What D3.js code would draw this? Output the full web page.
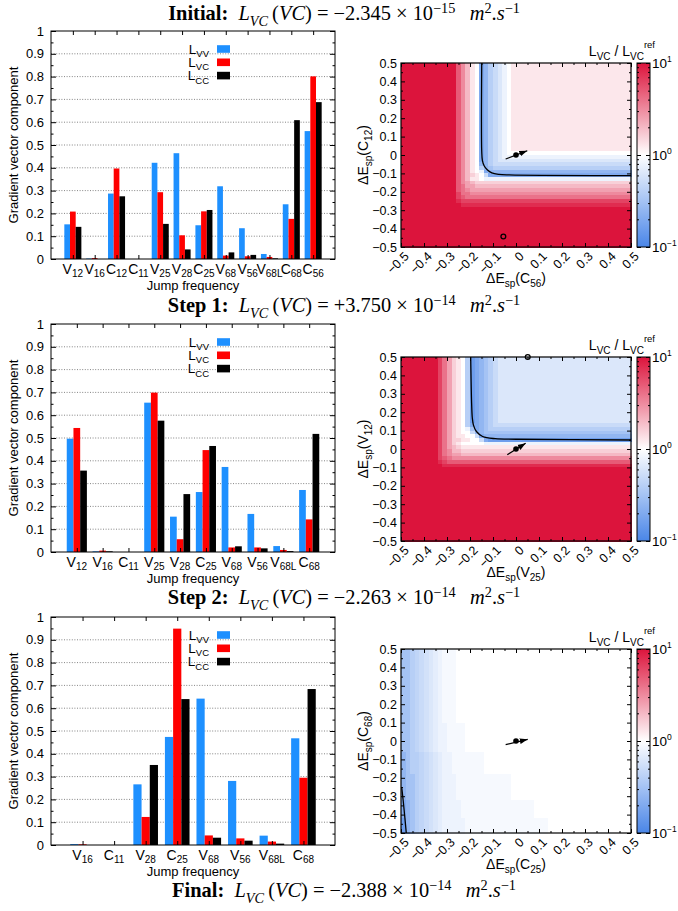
<!DOCTYPE html>
<html><head><meta charset="utf-8">
<script src="https://cdn.jsdelivr.net/npm/d3@7"></script>
<style>body{margin:0;background:#fff}svg{display:block}</style>
</head><body>
<svg id="c" width="678" height="911" xmlns="http://www.w3.org/2000/svg"></svg>
<script>
// ================= DATA =================
const titleLabels    = ["Initial:", "Step 1:", "Step 2:", "Final:"];
const titleMantissas = ["\u22122.345", "+3.750", "\u22122.263", "\u22122.388"];
const titleExponents = ["\u221215", "\u221214", "\u221214", "\u221214"];

const seriesNames = ["VV", "VC", "CC"];

const categories1 = ["V12","V16","C12","C11","V25","V28","C25","V68","V56","V68L","C68","C56"];
const LVV1 = [0.152,0.002,0.287,0.000,0.422,0.464,0.148,0.319,0.135,0.022,0.240,0.561];
const LVC1 = [0.208,0.004,0.397,0.000,0.293,0.104,0.209,0.015,0.012,0.009,0.176,0.801];
const LCC1 = [0.141,0.000,0.275,0.000,0.154,0.042,0.215,0.029,0.018,0.003,0.609,0.688];

const categories2 = ["V12","V16","C11","V25","V28","C25","V68","V56","V68L","C68"];
const LVV2 = [0.497,0.003,0.000,0.655,0.155,0.263,0.373,0.167,0.026,0.272];
const LVC2 = [0.544,0.006,0.000,0.699,0.056,0.447,0.020,0.020,0.009,0.143];
const LCC2 = [0.357,0.003,0.000,0.576,0.254,0.465,0.025,0.016,0.004,0.518];

const categories3 = ["V16","C11","V28","C25","V68","V56","V68L","C68"];
const LVV3 = [0.004,0.000,0.266,0.474,0.642,0.281,0.041,0.468];
const LVC3 = [0.003,0.000,0.123,0.949,0.042,0.029,0.015,0.295];
const LCC3 = [0.000,0.000,0.351,0.640,0.032,0.019,0.006,0.684];

const barTicks  = [0,0.1,0.2,0.3,0.4,0.5,0.6,0.7,0.8,0.9,1];
const heatTicks = [-0.5,-0.4,-0.3,-0.2,-0.1,0,0.1,0.2,0.3,0.4,0.5];
const cbTicks   = [0.1, 1, 10];
const cbTickExp = ["\u22121", "0", "1"];

const heatXVars = ["C56", "V25", "C25"];
const heatYVars = ["C12", "V12", "C68"];

// heatmap cells: 50 x 50, rows listed from top (y=0.5) to bottom (y=-0.5);
// [repeat, run-length row]; letter a..u = log10(L_VC/L_VC^ref) from -1.0 to +1.0 in 0.1 steps,
// an upper-case letter is half a step above its lower-case one
const heat1Rows = [
  [24, "u12 r p n l k d e g h i j k l26"],
  [1,  "u12 r p n l k d e g h i j k k26"],
  [1,  "u12 r p n l k d e g h i j j j26"],
  [1,  "u12 r p n l k d e g h i i i i26"],
  [1,  "u12 r p n l k e e g h h h h h26"],
  [1,  "u12 r p n l k g e f g g g g g26"],
  [1,  "u12 r p n l k j d e e e e e e26"],
  [1,  "u12 r p n m l k h d d d d d d26"],
  [1,  "u12 r p n l l k j32"],
  [1,  "u12 r p o n m m33"],
  [1,  "u12 r q o o n n33"],
  [1,  "u12 r q p o o o33"],
  [1,  "u12 s q q p p p33"],
  [1,  "u12 s r q q q q33"],
  [1,  "u12 t s s s s s33"],
  [1,  "u13 t t t t t33"],
  [11, "u50"]
];
const heat2Rows = [
  [18, "u8 s q o m l k g c d e f g h i29"],
  [1,  "u8 s q o m l k g d d e f g h h29"],
  [1,  "u8 s q o m l k j f d e f g g g29"],
  [1,  "u8 s q o m l k k h e e f f f f29"],
  [1,  "u8 s q o m l l k k h d e e e e29"],
  [1,  "u8 s q o m m l l k k h d c c c29"],
  [1,  "u8 s q o m l k k k k k j j j29"],
  [1,  "u8 s q o n m l37"],
  [1,  "u8 s q p n n m37"],
  [1,  "u8 s q p o o n37"],
  [1,  "u8 s r q p p p37"],
  [1,  "u8 t s r40"],
  [1,  "u9 t41"],
  [20, "u50"]
];
const heat3Rows = [
  [20, "f f g G h H i I j J J J k37"],
  [8,  "f f g G h H i I j j J J J J k36"],
  [6,  "e f g g G h H i I j j J7 k32"],
  [7,  "e f f g G h H i I j3 J12 k26"],
  [5,  "d e f g G h H i I j4 J16 k21"],
  [4,  "c e f g G h H i I j5 J18 k18"]
];

const contour1 = [[-0.149,0.5],[-0.149,0.02],[-0.146,-0.03],[-0.138,-0.06],[-0.125,-0.08],[-0.105,-0.097],[-0.075,-0.105],[-0.03,-0.108],[0.5,-0.112]];
const contour2 = [[-0.197,0.5],[-0.193,0.25],[-0.19,0.17],[-0.185,0.13],[-0.172,0.095],[-0.145,0.068],[-0.09,0.056],[0.0,0.053],[0.5,0.049]];
const contour3 = [[-0.497,-0.25],[-0.49,-0.33],[-0.483,-0.42],[-0.477,-0.5]];

const arrow1 = [[-0.045,-0.022],[0.049,0.023]];
const arrow2 = [[-0.038,-0.031],[0.042,0.031]];
const arrow3 = [[-0.045,-0.020],[0.051,0.009]];
const point1 = [0,0], point2 = [0,0], point3 = [0,0];
const marker1 = [[-0.055,-0.443]];
const marker2 = [[0.051,0.5]];
const marker3 = [];

// ================= STYLE / LAYOUT =================
const SANS  = "'Liberation Sans', Arial, Helvetica, sans-serif";
const SERIF = "'Liberation Serif', 'Times New Roman', serif";
const barColors = ["#1e90ff", "#ff0000", "#000000"];
const HEAT_BLUE = "#4a86e8", HEAT_RED = "#dc143c";
const svg = d3.select("#c");

const defs = svg.append("defs");
defs.append("marker").attr("id","ah").attr("markerUnits","userSpaceOnUse")
  .attr("markerWidth",9).attr("markerHeight",7).attr("refX",8).attr("refY",3.5)
  .attr("orient","auto")
  .append("path").attr("d","M0,0.6 L8,3.5 L0,6.4 Z").attr("fill","#000");

function rich(parent, parts, attrs) {
  const t = parent.append("text");
  Object.entries(attrs).forEach(([k,v]) => t.attr(k, v));
  let cur = 0;
  parts.forEach(p => {
    const sp = t.append("tspan").text(p.t);
    if (p.size) sp.attr("font-size", p.size);
    const sh = p.shift || 0;
    if (sh !== cur) { sp.attr("dy", cur - sh); cur = sh; }
    if (p.it) sp.attr("font-style", "italic");
    if (p.bold) sp.attr("font-weight", "bold");
  });
  return t;
}
function subLabel(name, big, small, drop) {
  return [{t: name[0], size: big}, {t: name.slice(1), size: small, shift: -drop}];
}

// ================= TITLES =================
function titleParts(i, S) {
  const sub = -0.28*S, sup = 0.36*S;
  return [
    {t: titleLabels[i], bold: true, size: S},
    {t: "\u2002", size: S},
    {t: "L", it: true, size: S},
    {t: "VC", it: true, size: 0.7*S, shift: sub},
    {t: "\u2009(", size: S},
    {t: "VC", it: true, size: S},
    {t: ") = " + titleMantissas[i] + " \u00d7 10", size: S},
    {t: titleExponents[i], size: 0.7*S, shift: sup},
    {t: "\u2002\u2009", size: S},
    {t: "m", it: true, size: S},
    {t: "2", size: 0.7*S, shift: sup},
    {t: ".", size: S},
    {t: "s", it: true, size: S},
    {t: "\u22121", size: 0.7*S, shift: sup}
  ];
}
const titleY = [20, 312, 604, 897];
let tmp = rich(svg, titleParts(0, 17), {x: 0, y: 200, "font-family": SERIF});
const w0 = tmp.node().getComputedTextLength();
tmp.remove();
const TS = 17 * 352 / w0;
titleY.forEach((y, i) => {
  rich(svg, titleParts(i, TS), {x: 344, y: y, "font-family": SERIF, "text-anchor": "middle", fill: "#000"});
});

// ================= BAR CHARTS =================
function barChart(top, cats, vals) {
  const L = 51, R = 335, H = 228, B = top + H;
  const x = d3.scaleLinear().domain([-1, cats.length]).range([L, R]);
  const y = d3.scaleLinear().domain([0, 1]).range([B, top]);
  const g = svg.append("g").attr("font-family", SANS);
  g.selectAll(null).data(barTicks.filter(d => d > 0 && d < 1)).join("line")
    .attr("x1", L).attr("x2", R).attr("y1", d => y(d)).attr("y2", d => y(d))
    .attr("stroke", "#777").attr("stroke-width", 0.9).attr("stroke-dasharray", "1,1.6");
  const BW = 0.26;
  vals.forEach((arr, s) => {
    g.selectAll(null).data(arr).join("rect")
      .attr("x", (d, i) => x(i + (s - 1) * BW - BW / 2))
      .attr("width", x(BW) - x(0))
      .attr("y", d => y(d)).attr("height", d => y(0) - y(d))
      .attr("fill", barColors[s]);
  });
  const fmt = d => d === 0 ? "0" : d === 1 ? "1" : d3.format(".1f")(d);
  const ay = g.append("g").attr("transform", `translate(${L},0)`)
    .call(d3.axisLeft(y).tickValues(barTicks).tickSize(-5).tickPadding(7).tickFormat(fmt));
  ay.select(".domain").remove();
  ay.selectAll("text").attr("font-size", 13).attr("font-family", SANS).attr("fill", "#000");
  const minors = barTicks.slice(0, -1).map(d => d + 0.05);
  g.append("g").attr("transform", `translate(${L},0)`)
    .call(d3.axisLeft(y).tickValues(minors).tickSize(-2.5).tickFormat("")).select(".domain").remove();
  g.append("g").attr("transform", `translate(${R},0)`)
    .call(d3.axisRight(y).tickValues(barTicks).tickSize(-5).tickFormat("")).select(".domain").remove();
  g.append("g").attr("transform", `translate(${R},0)`)
    .call(d3.axisRight(y).tickValues(minors).tickSize(-2.5).tickFormat("")).select(".domain").remove();
  const idx = d3.range(cats.length);
  g.append("g").attr("transform", `translate(0,${top})`)
    .call(d3.axisTop(x).tickValues(idx).tickSize(-4).tickFormat("")).select(".domain").remove();
  g.append("g").attr("transform", `translate(0,${B})`)
    .call(d3.axisBottom(x).tickValues(idx).tickSize(-4).tickFormat("")).select(".domain").remove();
  g.selectAll(".tick line").attr("stroke", "#000");
  cats.forEach((c, i) => {
    rich(g, subLabel(c, 14, 10, 3.5), {x: x(i), y: B + 14.5, "text-anchor": "middle", fill: "#000"});
  });
  g.append("rect").attr("x", L).attr("y", top).attr("width", R - L).attr("height", H)
    .attr("fill", "none").attr("stroke", "#000").attr("stroke-width", 1);
  g.append("text").attr("transform", `translate(18,${(top + B) / 2}) rotate(-90)`)
    .attr("text-anchor", "middle").attr("font-size", 13).text("Gradient vector component");
  g.append("text").attr("x", (L + R) / 2).attr("y", B + 30.5).attr("text-anchor", "middle")
    .attr("font-size", 13).text("Jump frequency");
  const lt = top + 18;
  seriesNames.forEach((n, s) => {
    const cy = lt + s * 13.3;
    g.append("rect").attr("x", 217).attr("y", cy - 3.8).attr("width", 13).attr("height", 7.6).attr("fill", barColors[s]);
    rich(g, [{t: "L", size: 13.5}, {t: n, size: 9.5, shift: -3.5}], {x: 209, y: cy + 4.5, "text-anchor": "end", fill: "#000"});
  });
}
barChart(31, categories1, [LVV1, LVC1, LCC1]);
barChart(324, categories2, [LVV2, LVC2, LCC2]);
barChart(617, categories3, [LVV3, LVC3, LCC3]);

// ================= HEATMAPS =================
const color = d3.scaleLinear().domain([-1, 0, 1]).range([HEAT_BLUE, "#ffffff", HEAT_RED]).clamp(true);
function decodeRow(s) {
  let out = "";
  s.trim().split(/\s+/).forEach(tok => { out += tok[0].repeat(tok.length > 1 ? +tok.slice(1) : 1); });
  while (out.length < 50) out += out[out.length - 1];
  return out.slice(0, 50);
}
function level(ch) {
  const c = ch.charCodeAt(0);
  return c >= 97 ? (c - 97) / 10 - 1 : (c - 65) / 10 - 1 + 0.05;
}
function expandRows(rows) {
  const res = [];
  rows.forEach(([n, s]) => { const r = decodeRow(s); for (let i = 0; i < n; i++) res.push(r); });
  return res;
}
const fmtH = d => Math.abs(d) < 1e-9 ? "0" : d3.format(".1f")(d);

function heatmap(k, top, rows, contour, arrow, point, markers, xv, yv) {
  const L = 401, R = 631, H = 184, B = top + H;
  const x = d3.scaleLinear().domain([-0.5, 0.5]).range([L, R]);
  const y = d3.scaleLinear().domain([-0.5, 0.5]).range([B, top]);
  const g = svg.append("g").attr("font-family", SANS);
  const grid = expandRows(rows);
  const cells = [];
  grid.forEach((row, r) => {
    for (let j = 0; j < row.length; j++) {
      cells.push({x0: -0.5 + 0.02 * j, y1: 0.5 - 0.02 * r, v: level(row[j])});
    }
  });
  g.append("g").attr("shape-rendering", "crispEdges").selectAll("rect").data(cells).join("rect")
    .attr("x", d => x(d.x0)).attr("y", d => y(d.y1))
    .attr("width", x(0.02) - x(0) + 0.6).attr("height", y(0) - y(0.02) + 0.6)
    .attr("fill", d => color(d.v));
  const clipId = "clip" + k;
  defs.append("clipPath").attr("id", clipId).append("rect").attr("x", L).attr("y", top).attr("width", R - L).attr("height", H);
  g.append("path").datum(contour).attr("clip-path", `url(#${clipId})`)
    .attr("d", d3.line().x(d => x(d[0])).y(d => y(d[1])).curve(d3.curveCatmullRom))
    .attr("fill", "none").attr("stroke", "#000").attr("stroke-width", 1.3);
  g.append("line").attr("x1", x(arrow[0][0])).attr("y1", y(arrow[0][1]))
    .attr("x2", x(arrow[1][0])).attr("y2", y(arrow[1][1]))
    .attr("stroke", "#000").attr("stroke-width", 1.2).attr("marker-end", "url(#ah)");
  g.append("circle").attr("cx", x(point[0])).attr("cy", y(point[1])).attr("r", 2.8).attr("fill", "#000");
  g.selectAll(null).data(markers).join("circle").attr("cx", d => x(d[0])).attr("cy", d => y(d[1]))
    .attr("r", 2.4).attr("fill", "none").attr("stroke", "#000").attr("stroke-width", 1.3);
  const minorH = heatTicks.slice(0, -1).map(d => d + 0.05);
  const ax = (axis, tx, ty, vals, size, fmt) => {
    const a = g.append("g").attr("transform", `translate(${tx},${ty})`)
      .call(axis.tickValues(vals).tickSize(size).tickPadding(4).tickFormat(fmt || ""));
    a.select(".domain").remove();
    a.selectAll(".tick line").attr("stroke", "#000");
    return a;
  };
  const ayL = ax(d3.axisLeft(y), L, 0, heatTicks, -4, fmtH);
  ayL.selectAll("text").attr("font-size", 12.5).attr("font-family", SANS).attr("fill", "#000");
  ax(d3.axisLeft(y), L, 0, minorH, -2);
  ax(d3.axisRight(y), R, 0, heatTicks, -4);
  ax(d3.axisRight(y), R, 0, minorH, -2);
  ax(d3.axisTop(x), 0, top, heatTicks, -4);
  ax(d3.axisTop(x), 0, top, minorH, -2);
  const axB = ax(d3.axisBottom(x), 0, B, heatTicks, -4, fmtH);
  axB.selectAll("text").attr("font-size", 12.5).attr("font-family", SANS).attr("fill", "#000")
    .attr("x", 0).attr("y", 0).attr("dy", "0.35em").attr("text-anchor", "end")
    .attr("transform", "translate(5,7) rotate(-45)");
  ax(d3.axisBottom(x), 0, B, minorH, -2);
  g.append("rect").attr("x", L).attr("y", top).attr("width", R - L).attr("height", H)
    .attr("fill", "none").attr("stroke", "#000").attr("stroke-width", 1.2);
  const lbl = v => [{t: "\u0394E", size: 14}, {t: "sp", size: 10, shift: -4}, {t: "(" + v[0], size: 14}, {t: v.slice(1), size: 10, shift: -4}, {t: ")", size: 14}];
  rich(g, lbl(xv), {x: (L + R) / 2, y: B + 36, "text-anchor": "middle", fill: "#000"});
  rich(g, lbl(yv), {transform: `translate(368,${(top + B) / 2}) rotate(-90)`, "text-anchor": "middle", fill: "#000"});
  const CL = 637, CR = 650;
  const cy = d3.scaleLog().domain([0.1, 10]).range([B, top]);
  const gid = "grad" + k;
  const lg = defs.append("linearGradient").attr("id", gid).attr("x1", 0).attr("x2", 0).attr("y1", 1).attr("y2", 0);
  d3.range(0, 1.0001, 0.05).forEach(t => lg.append("stop").attr("offset", t).attr("stop-color", color(-1 + 2 * t)));
  g.append("rect").attr("x", CL).attr("y", top).attr("width", CR - CL).attr("height", H).attr("fill", `url(#${gid})`);
  const cbMinor = [0.2,0.3,0.4,0.5,0.6,0.7,0.8,0.9,2,3,4,5,6,7,8,9];
  ax(d3.axisLeft(cy), CL, 0, cbTicks, -4);
  ax(d3.axisLeft(cy), CL, 0, cbMinor, -2);
  ax(d3.axisRight(cy), CR, 0, cbTicks, -4);
  ax(d3.axisRight(cy), CR, 0, cbMinor, -2);
  g.append("rect").attr("x", CL).attr("y", top).attr("width", CR - CL).attr("height", H)
    .attr("fill", "none").attr("stroke", "#000").attr("stroke-width", 1);
  cbTicks.forEach((v, i) => {
    rich(g, [{t: "10", size: 13.5}, {t: cbTickExp[i], size: 8.5, shift: 6}], {x: CR + 2, y: cy(v) + 5, fill: "#000"});
  });
  rich(g, [{t: "L", size: 14}, {t: "VC", size: 10, shift: -4}, {t: " / L", size: 14}, {t: "VC", size: 10, shift: -4}, {t: "ref", size: 9.5, shift: 8}],
    {x: 655, y: top - 7.5, "text-anchor": "end", fill: "#000"});
}
heatmap(1, 63, heat1Rows, contour1, arrow1, point1, marker1, heatXVars[0], heatYVars[0]);
heatmap(2, 357, heat2Rows, contour2, arrow2, point2, marker2, heatXVars[1], heatYVars[1]);
heatmap(3, 649, heat3Rows, contour3, arrow3, point3, marker3, heatXVars[2], heatYVars[2]);
</script>
</body></html>
